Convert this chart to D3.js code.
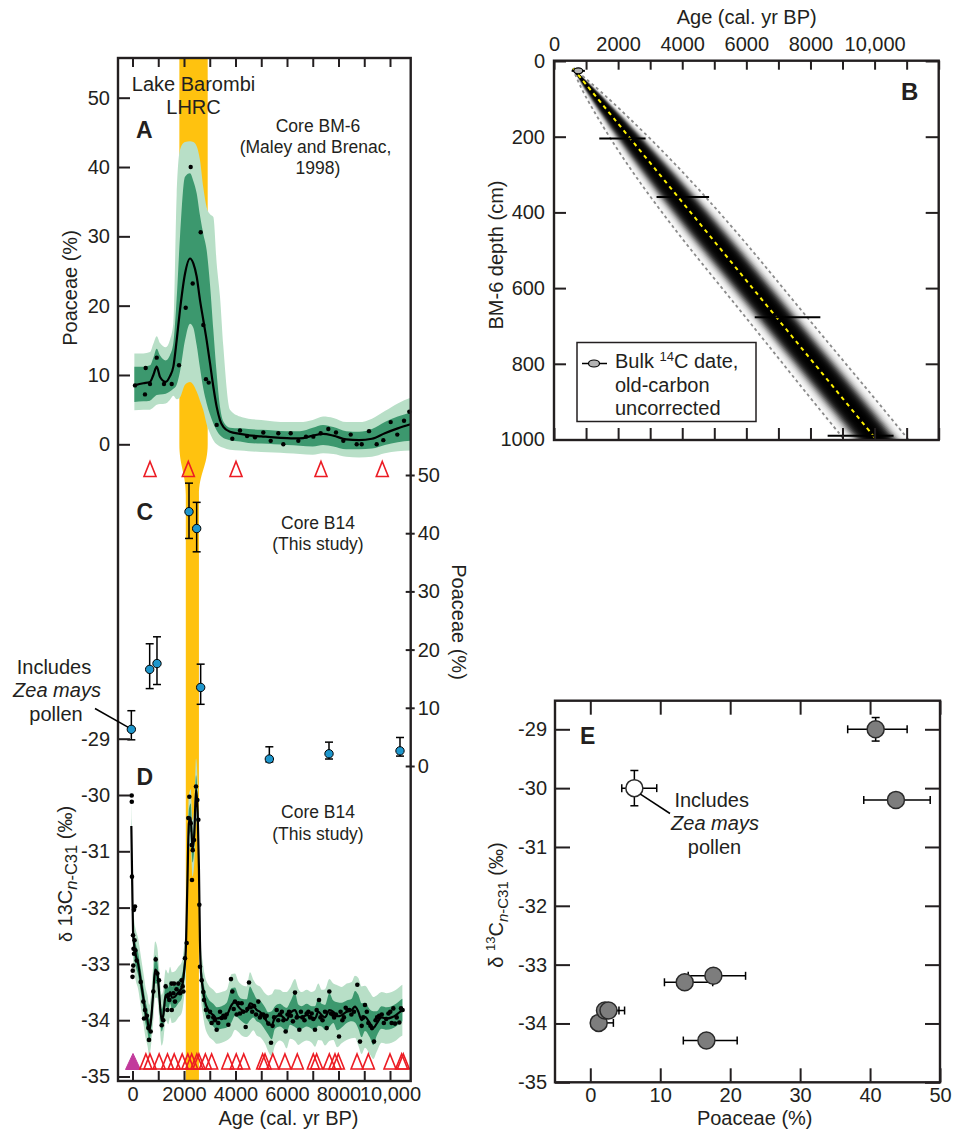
<!DOCTYPE html>
<html>
<head>
<meta charset="utf-8">
<script src="https://cdn.jsdelivr.net/npm/d3@7"></script>
<style>
  body { margin: 0; background: #fff; }
  svg text { font-family: "Liberation Sans", Arial, Helvetica, sans-serif; }
</style>
</head>
<body>
<svg id="fig" width="956" height="1135"></svg>
<script>
// ---------------- tick labels ----------------
const ageTickValues = [0, 2000, 4000, 6000, 8000, 10000];
const ageTickLabels = ["0", "2000", "4000", "6000", "8000", "10,000"];
const poaceaeTicks = [0, 10, 20, 30, 40, 50];
const d13cTicks = [-35, -34, -33, -32, -31, -30, -29];
const depthTicks = [0, 200, 400, 600, 800, 1000];

// ---------------- Lake Barombi LHRC interval (cal. yr BP) ----------------
const lhrcBM6 = [1820, 2920];
const lhrcB14 = [2070, 2580];

// ---------------- (A) Core BM-6 Poaceae pollen ----------------
const bm6Age = [97, 485, 512, 680, 940, 1223, 1522, 1806, 2066, 2260, 2338, 2648, 2750, 2854, 2959, 3270,
  3876, 4175, 4450, 4757, 5080, 5367, 5662, 5857, 6144, 6440, 6738, 7022, 7309, 7604, 7903, 8187, 8474,
  8707, 8901, 9185, 9483, 9740, 10027, 10283, 10544, 10750];
const bm6Poaceae = [8.5, 7.2, 11.0, 8.7, 12.5, 8.7, 8.7, 11.4, 19.7, 40.0, 23.2, 30.6, 17.2, 9.4, 8.9, 2.8,
  0.8, 2.0, 1.2, 1.0, 1.7, 0.5, 1.6, 0.0, 1.6, 0.5, 1.1, 1.1, 1.6, 2.2, 1.7, 0.5, 1.4,
  0.0, 0.0, 1.9, 0.0, 0.6, 3.2, 1.4, 3.4, 4.7];
// smoothed fit with 68% and 95% envelopes
const bm6FitAge = [72, 420, 680, 810, 940, 1070, 1290, 1450, 1586, 1715, 1845, 2039, 2233, 2362, 2492, 2621,
  2751, 2880, 3010, 3139, 3269, 3398, 3528, 3786, 4175, 4500, 5000, 5500, 6000, 6500, 7000, 7400, 7800,
  8300, 8800, 9300, 9800, 10300, 10800];
const bm6FitMean = [8.5, 8.8, 9.0, 10.0, 11.2, 9.7, 9.0, 9.8, 11.2, 15.0, 19.4, 24.6, 26.8, 26.1, 24.2, 20.8,
  17.9, 15.0, 11.7, 8.3, 5.4, 3.5, 2.5, 1.8, 1.5, 1.3, 1.15, 1.0, 0.9, 0.85, 1.25, 1.5, 1.25,
  0.7, 0.6, 0.8, 1.6, 2.3, 2.9];
const bm6Hi68 = [11.2, 11.2, 11.4, 12.5, 13.8, 12.8, 12.1, 12.8, 14.6, 21.0, 30.0, 38.6, 39.1, 38.0, 36.2, 33.0,
  30.3, 28.0, 23.0, 16.5, 10.2, 5.4, 3.3, 2.4, 2.3, 2.2, 2.1, 2.0, 1.9, 1.9, 2.4, 2.8, 2.5,
  1.9, 1.8, 2.2, 3.2, 4.0, 4.6];
const bm6Lo68 = [6.1, 6.2, 6.3, 6.7, 7.1, 7.2, 7.3, 7.6, 8.0, 8.6, 10.5, 15.0, 17.4, 16.8, 14.3, 11.0,
  8.0, 5.9, 4.3, 3.0, 2.0, 1.3, 0.9, 0.6, 0.4, 0.2, 0.1, 0.0, -0.1, -0.2, -0.3, -0.1, -0.3,
  -0.7, -0.7, -0.6, -0.1, 0.3, 0.5];
const bm6Hi95 = [13.1, 13.1, 13.3, 14.5, 15.6, 14.6, 14.0, 15.0, 17.5, 36.0, 42.5, 43.6, 43.7, 43.6, 43.0, 41.0,
  37.0, 34.2, 33.2, 32.8, 26.1, 21.3, 14.1, 5.0, 4.0, 3.7, 3.5, 3.3, 3.2, 3.2, 3.5, 4.0, 3.8,
  3.2, 3.2, 3.7, 4.8, 5.9, 6.7];
const bm6Lo95 = [4.9, 5.0, 5.0, 5.3, 5.7, 5.8, 5.9, 6.4, 7.0, 6.5, 6.8, 8.6, 9.0, 8.6, 7.6, 6.3,
  4.9, 2.9, 1.6, 0.6, 0.0, -0.3, -0.5, -0.8, -0.9, -1.0, -1.1, -1.2, -1.3, -1.4, -1.5, -1.3, -1.4,
  -1.8, -1.9, -1.8, -1.3, -1.0, -0.9];
const bm6DateAge = [680, 2168, 4020, 7320, 9700];

// ---------------- (C, E) Core B14 Poaceae and paired n-C31 d13C ----------------
const b14Age = [-45, 667, 951, 2194, 2492, 2647, 5314, 7631, 10388];
const b14Poaceae = [6.3, 16.6, 17.6, 43.7, 40.8, 13.5, 1.2, 2.1, 2.6];
const b14PoaLo = [4.5, 13.3, 14.0, 39.1, 36.8, 10.6, 0.7, 1.2, 1.7];
const b14PoaHi = [9.5, 21.0, 22.2, 48.6, 45.3, 17.5, 3.3, 4.1, 4.9];
const b14D13C = [-30.0, -34.29, -33.19, -30.2, -29.0, -33.3, -33.99, -33.78, -33.78];
const b14D13CErr = [0.3, 0.08, 0.08, 0.1, 0.2, 0.08, 0.08, 0.08, 0.1];
const b14ZeaMays = [true, false, false, false, false, false, false, false, false];

// ---------------- (D) Core B14 n-C31 d13C ----------------
const d13Age = [-32, -28, -20, 0, 10, 20, 30, 40, 58, 60, 80, 97, 110, 162, 318, 420, 447, 485, 560, 615,
  641, 707, 809, 901, 963, 1029, 1134, 1196, 1288, 1353, 1392, 1430, 1521, 1525, 1586, 1612, 1650, 1710,
  1780, 1845, 1909, 1948, 1975, 2039, 2104, 2168, 2207, 2260, 2298, 2310, 2338, 2388, 2466, 2518, 2557,
  2595, 2621, 2687, 2750, 2777, 2854, 2945, 3010, 3074, 3139, 3204, 3269, 3330, 3400, 3463, 3530, 3592,
  3650, 3722, 3825, 3877, 3930, 3980, 4045, 4110, 4175, 4240, 4300, 4395, 4460, 4524, 4590, 4650, 4720,
  4800, 4886, 4950, 5010, 5080, 5146, 5210, 5275, 5379, 5440, 5500, 5599, 5660, 5728, 5800, 5860, 5948,
  6020, 6080, 6150, 6230, 6311, 6380, 6479, 6540, 6600, 6680, 6764, 6830, 6900, 6958, 7022, 7087, 7152,
  7243, 7300, 7380, 7476, 7540, 7644, 7710, 7770, 7830, 7900, 8019, 8080, 8150, 8210, 8280, 8350, 8420,
  8500, 8600, 8731, 8835, 8900, 8960, 9029, 9100, 9160, 9240, 9300, 9379, 9440, 9500, 9580, 9680, 9760,
  9850, 9940, 10010, 10065, 10129, 10194, 10260, 10362, 10427, 10490];
const d13Val = [-30.01, -30.12, -31.45, -33.23, -33.12, -32.49, -33.03, -32.73, -32.04, -32.82, -32.58, -31.98,
  -32.76, -32.94, -33.32, -33.67, -33.97, -33.82, -33.92, -34.14, -34.35, -34.20, -33.49, -32.92, -33.17,
  -33.29, -34.09, -34.00, -33.40, -33.82, -33.55, -33.64, -33.35, -33.82, -33.52, -33.35, -33.67, -33.45,
  -33.35, -33.52, -33.29, -33.40, -33.49, -32.90, -32.63, -30.41, -30.03, -30.50, -30.89, -31.51, -30.98,
  -30.80, -29.85, -30.09, -30.44, -31.95, -33.05, -33.29, -33.50, -33.64, -33.82, -33.94, -33.85, -34.05,
  -33.95, -34.00, -34.17, -34.05, -33.85, -33.96, -33.92, -33.95, -33.90, -34.08, -33.27, -33.49, -33.80,
  -33.67, -33.90, -33.70, -33.88, -33.70, -33.85, -34.12, -33.80, -33.33, -33.77, -33.85, -33.75, -33.90,
  -33.67, -33.95, -33.90, -33.90, -33.95, -33.92, -34.06, -34.40, -34.10, -33.95, -33.82, -34.00, -33.90,
  -33.85, -34.00, -34.20, -33.90, -33.85, -33.92, -34.02, -33.51, -33.95, -34.17, -33.85, -33.95, -34.00,
  -33.88, -33.85, -33.95, -33.88, -33.98, -34.17, -33.82, -33.64, -33.95, -34.00, -33.85, -34.14, -33.49,
  -33.88, -33.90, -33.95, -33.90, -34.29, -33.85, -34.00, -33.95, -33.78, -33.82, -33.82, -33.90, -33.85,
  -33.37, -34.38, -34.10, -33.95, -33.73, -33.85, -34.05, -34.10, -34.14, -34.38, -34.00, -33.95, -33.92,
  -33.90, -34.05, -33.98, -33.88, -33.85, -34.05, -33.79, -34.06, -33.95, -34.04, -33.79, -33.82];
// smoothed record with 68% / 95% half-widths
const d13FitAge = [-45, -10, 20, 60, 130, 220, 320, 420, 500, 580, 650, 720, 800, 880, 960, 1040, 1130, 1200,
  1290, 1390, 1460, 1530, 1650, 1780, 1910, 2000, 2070, 2130, 2190, 2260, 2330, 2400, 2466, 2530, 2580,
  2620, 2660, 2720, 2816, 2945, 3139, 3269, 3463, 3657, 3851, 3980, 4110, 4240, 4434, 4563, 4692, 4822,
  4951, 5146, 5275, 5405, 5534, 5728, 5858, 5987, 6117, 6311, 6440, 6570, 6764, 6958, 7087, 7217, 7346,
  7476, 7644, 7799, 7954, 8122, 8317, 8511, 8641, 8770, 8900, 9029, 9223, 9353, 9482, 9676, 9871, 10065,
  10233, 10388, 10480];
const d13FitMean = [-30.55, -31.6, -32.4, -32.65, -32.85, -33.0, -33.3, -33.6, -33.85, -34.0, -34.18, -34.0,
  -33.55, -33.1, -33.15, -33.55, -34.0, -33.9, -33.55, -33.62, -33.5, -33.6, -33.58, -33.5, -33.42,
  -33.15, -32.75, -31.6, -30.5, -30.4, -30.95, -30.7, -29.9, -30.3, -31.3, -32.6, -33.15, -33.4,
  -33.67, -33.82, -33.91, -33.97, -33.95, -33.91, -33.73, -33.67, -33.76, -33.82, -33.85, -33.70,
  -33.73, -33.82, -33.85, -33.97, -34.06, -34.09, -33.95, -33.91, -33.95, -34.0, -33.88, -33.82,
  -33.94, -33.95, -33.91, -33.95, -33.97, -33.85, -33.91, -33.95, -33.82, -33.85, -33.93, -33.91,
  -33.85, -33.82, -33.76, -33.85, -34.0, -33.94, -34.06, -34.14, -34.06, -33.95, -33.97, -33.95,
  -33.91, -33.85, -33.82];
const d13Half68 = [0.15, 0.25, 0.25, 0.2, 0.2, 0.2, 0.2, 0.2, 0.2, 0.2, 0.2, 0.2, 0.2, 0.25, 0.2, 0.2, 0.2, 0.2,
  0.2, 0.2, 0.2, 0.2, 0.2, 0.2, 0.2, 0.2, 0.2, 0.25, 0.25, 0.25, 0.25, 0.25, 0.25, 0.25, 0.25,
  0.25, 0.2, 0.2, 0.2, 0.2, 0.2, 0.2, 0.2, 0.22, 0.3, 0.25, 0.2, 0.2, 0.22, 0.3, 0.22, 0.2,
  0.2, 0.2, 0.2, 0.25, 0.2, 0.2, 0.2, 0.22, 0.2, 0.3, 0.22, 0.2, 0.2, 0.2, 0.22, 0.25, 0.2,
  0.22, 0.3, 0.2, 0.25, 0.22, 0.2, 0.2, 0.28, 0.3, 0.3, 0.25, 0.25, 0.3, 0.22, 0.2, 0.2, 0.2,
  0.2, 0.2, 0.2];
const d13Half95 = [0.5, 0.55, 0.5, 0.45, 0.45, 0.45, 0.45, 0.45, 0.45, 0.45, 0.45, 0.45, 0.5, 0.5, 0.45, 0.45, 0.45, 0.45,
  0.45, 0.45, 0.45, 0.45, 0.45, 0.45, 0.45, 0.45, 0.45, 0.5, 0.5, 0.5, 0.5, 0.5, 0.55, 0.5, 0.5,
  0.5, 0.45, 0.45, 0.45, 0.45, 0.45, 0.45, 0.45, 0.45, 0.55, 0.5, 0.45, 0.45, 0.45, 0.55, 0.45, 0.45,
  0.45, 0.45, 0.5, 0.55, 0.5, 0.45, 0.45, 0.5, 0.45, 0.55, 0.5, 0.45, 0.45, 0.45, 0.5, 0.5, 0.45,
  0.5, 0.55, 0.5, 0.55, 0.5, 0.5, 0.5, 0.55, 0.6, 0.6, 0.55, 0.55, 0.55, 0.5, 0.45, 0.45, 0.45,
  0.45, 0.45, 0.45];
const b14DateAge = [520, 680, 1035, 1360, 1620, 1930, 2150, 2300, 2500, 2580, 2830, 3074, 3700, 4030, 4320,
  5055, 5146, 5450, 5920, 6400, 7022, 7152, 7644, 7864, 7993, 8720, 9160, 10000, 10453, 10518];
const b14SurfaceAge = [20];

// ---------------- (B) BM-6 age-depth model ----------------
const bmDepth = [20, 30, 60, 100, 200, 300, 400, 500, 600, 700, 800, 900, 1000];
const bmMedianAge = [596, 693, 982, 1368, 2333, 3298, 4263, 5228, 6193, 7158, 8123, 9088, 10053];
const bmHalf95 = [0, 60, 200, 350, 620, 800, 900, 950, 950, 960, 980, 1000, 1000];
const bmDateDepth = [26, 205, 359, 677, 990];
const bmDateLo = [550, 1412, 3199, 6262, 8536];
const bmDateHi = [964, 2857, 4838, 8308, 10592];

// ---------------- drawing ----------------
const INK = "#231f20";
const GREEN_LIGHT = "#b8dfc7";
const GREEN_DARK = "#3c986e";
const LHRC_COL = "#ffc20f";
const TRI_RED = "#ec1c24";
const svg = d3.select("#fig");

function addText(x, y, str, o = {}) {
  const t = svg.append("text").attr("x", x).attr("y", y).text(str)
    .attr("font-size", o.size || 20).attr("text-anchor", o.anchor || "middle").attr("fill", INK);
  if (o.weight) t.attr("font-weight", o.weight);
  if (o.style) t.attr("font-style", o.style);
  return t;
}
function styleAxis(g, fontSize) {
  g.select(".domain").remove();
  g.selectAll(".tick line").attr("stroke", INK).attr("stroke-width", 2);
  g.selectAll(".tick text").attr("fill", INK).attr("font-size", fontSize || 20)
    .attr("font-family", '"Liberation Sans", Arial, Helvetica, sans-serif');
}
const tri = (w, h) => `M0,${-h / 2} L${w / 2},${h / 2} L${-w / 2},${h / 2} Z`;

// ===== left column: panels A, C, D share the age axis =====
const frameL = { left: 118, right: 410.7, top: 58, bottom: 1081 };
const xAge = d3.scaleLinear().domain([0, 10000]).range([132.5, 390]);
const yA = d3.scaleLinear().domain([0, 50]).range([444.3, 97.7]);
const yC = d3.scaleLinear().domain([0, 50]).range([766, 475]);
const yD = d3.scaleLinear().domain([-35, -30]).range([1076.5, 795]);

// LHRC band: wide in BM-6, narrowing to the B14 interval
{
  const a0 = xAge(lhrcBM6[0]), a1 = xAge(lhrcBM6[1]);
  const c0 = xAge(lhrcB14[0]), c1 = xAge(lhrcB14[1]);
  const t0 = yA(0), t1 = yC(46.5);
  const p = `M${a0},${frameL.top} L${a1},${frameL.top} L${a1},${t0}
    C${a1},${t0 + 22} ${c1},${t1 - 22} ${c1},${t1} L${c1},${frameL.bottom} L${c0},${frameL.bottom} L${c0},${t1}
    C${c0},${t1 - 22} ${a0},${t0 + 22} ${a0},${t0} Z`;
  svg.append("path").attr("d", p).attr("fill", LHRC_COL);
}

// ----- panel A -----
function bandA(lo, hi) {
  return d3.area().x((d, i) => xAge(bm6FitAge[i])).y0((d, i) => yA(lo[i])).y1((d, i) => yA(hi[i]))
    .curve(d3.curveMonotoneX)(bm6FitAge);
}
svg.append("path").attr("d", bandA(bm6Lo95, bm6Hi95)).attr("fill", GREEN_LIGHT);
svg.append("path").attr("d", bandA(bm6Lo68, bm6Hi68)).attr("fill", GREEN_DARK);
svg.append("path")
  .attr("d", d3.line().x((d, i) => xAge(bm6FitAge[i])).y(d => yA(d)).curve(d3.curveMonotoneX)(bm6FitMean))
  .attr("fill", "none").attr("stroke", "#000").attr("stroke-width", 2.2);
svg.append("g").selectAll("circle").data(bm6Age).join("circle")
  .attr("cx", d => xAge(d)).attr("cy", (d, i) => yA(bm6Poaceae[i])).attr("r", 2.2).attr("fill", "#000");
svg.append("g").selectAll("path").data(bm6DateAge).join("path")
  .attr("transform", d => `translate(${xAge(d)},${469})`).attr("d", tri(12, 15))
  .attr("fill", "none").attr("stroke", TRI_RED).attr("stroke-width", 1.6);

// ----- panel C -----
const gC = svg.append("g");
b14Age.forEach((a, i) => {
  const x = xAge(a);
  gC.append("line").attr("x1", x).attr("x2", x).attr("y1", yC(b14PoaLo[i])).attr("y2", yC(b14PoaHi[i]))
    .attr("stroke", "#000").attr("stroke-width", 1.5);
  [b14PoaLo[i], b14PoaHi[i]].forEach(v => gC.append("line").attr("x1", x - 4).attr("x2", x + 4)
    .attr("y1", yC(v)).attr("y2", yC(v)).attr("stroke", "#000").attr("stroke-width", 1.5));
});
gC.selectAll("circle").data(b14Age).join("circle")
  .attr("cx", d => xAge(d)).attr("cy", (d, i) => yC(b14Poaceae[i])).attr("r", 4.2)
  .attr("fill", "#1e96cc").attr("stroke", "#000").attr("stroke-width", 1);

// ----- panel D -----
function bandD(half) {
  return d3.area().x((d, i) => xAge(d13FitAge[i]))
    .y0((d, i) => yD(d13FitMean[i] - half[i])).y1((d, i) => yD(d13FitMean[i] + half[i]))
    .curve(d3.curveMonotoneX)(d13FitAge);
}
svg.append("path").attr("d", bandD(d13Half95)).attr("fill", GREEN_LIGHT);
svg.append("path").attr("d", bandD(d13Half68)).attr("fill", GREEN_DARK);
svg.append("path")
  .attr("d", d3.line().x((d, i) => xAge(d13FitAge[i])).y(d => yD(d)).curve(d3.curveMonotoneX)(d13FitMean))
  .attr("fill", "none").attr("stroke", "#000").attr("stroke-width", 2.2);
svg.append("g").selectAll("circle").data(d13Age).join("circle")
  .attr("cx", d => xAge(d)).attr("cy", (d, i) => yD(d13Val[i])).attr("r", 2.3).attr("fill", "#000");
svg.append("g").selectAll("path").data(b14SurfaceAge).join("path")
  .attr("transform", d => `translate(${xAge(d)},${1061.5})`).attr("d", tri(15, 16))
  .attr("fill", "#c23a9c").attr("stroke", "#c23a9c").attr("stroke-width", 1);
svg.append("g").selectAll("path").data(b14DateAge).join("path")
  .attr("transform", d => `translate(${xAge(d)},${1061.5})`).attr("d", tri(12, 15))
  .attr("fill", "none").attr("stroke", TRI_RED).attr("stroke-width", 1.6);

// ----- left column frame & axes -----
svg.append("rect").attr("x", frameL.left).attr("y", frameL.top)
  .attr("width", frameL.right - frameL.left).attr("height", frameL.bottom - frameL.top)
  .attr("fill", "none").attr("stroke", INK).attr("stroke-width", 2.4);
const ageMinor = d3.range(0, 10001, 1000);
svg.append("g").attr("transform", `translate(0,${frameL.top})`)
  .call(d3.axisTop(xAge).tickValues(ageMinor).tickSize(-9).tickFormat(""))
  .call(styleAxis);
svg.append("g").attr("transform", `translate(0,${frameL.bottom})`)
  .call(d3.axisBottom(xAge).tickValues(ageMinor).tickSize(-10).tickPadding(6)
    .tickFormat(d => { const k = ageTickValues.indexOf(d); return k >= 0 ? ageTickLabels[k] : ""; }))
  .call(styleAxis);
svg.append("g").attr("transform", `translate(${frameL.left},0)`)
  .call(d3.axisLeft(yA).tickValues(poaceaeTicks).tickSize(-12).tickPadding(8).tickFormat(d => String(d)))
  .call(styleAxis);
svg.append("g").attr("transform", `translate(${frameL.left},0)`)
  .call(d3.axisLeft(yD).tickValues(d13cTicks).tickSize(-12).tickPadding(8).tickFormat(d => String(d)))
  .call(styleAxis);
svg.append("g").attr("transform", `translate(${frameL.right - 5},0)`)
  .call(d3.axisRight(yC).tickValues(poaceaeTicks).tickSize(9).tickPadding(3).tickFormat(d => String(d)))
  .call(styleAxis);

// ----- left column text -----
addText(193.5, 91, "Lake Barombi");
addText(193.5, 114, "LHRC");
addText(136, 137.5, "A", { anchor: "start", size: 23, weight: "bold" });
addText(318, 131.5, "Core BM-6", { size: 17.5 });
addText(315.5, 153, "(Maley and Brenac,", { size: 17.5 });
addText(318, 174, "1998)", { size: 17.5 });
svg.append("text").attr("transform", "translate(77,288) rotate(-90)").attr("text-anchor", "middle")
  .attr("font-size", 20).attr("fill", INK).text("Poaceae (%)");

addText(136.5, 520, "C", { anchor: "start", size: 23, weight: "bold" });
addText(318, 529, "Core B14", { size: 17.5 });
addText(318, 549.5, "(This study)", { size: 17.5 });
svg.append("text").attr("transform", "translate(452,622) rotate(90)").attr("text-anchor", "middle")
  .attr("font-size", 20).attr("fill", INK).text("Poaceae (%)");
addText(54, 673.5, "Includes");
addText(57, 696.5, "Zea mays", { style: "italic" });
addText(56, 720.5, "pollen");
svg.append("line").attr("x1", 95).attr("y1", 708.5).attr("x2", xAge(b14Age[0]) - 3).attr("y2", yC(b14Poaceae[0]) - 2)
  .attr("stroke", "#000").attr("stroke-width", 1.5);

addText(136.5, 785, "D", { anchor: "start", size: 23, weight: "bold" });
addText(318, 817.5, "Core B14", { size: 17.5 });
addText(318, 839.5, "(This study)", { size: 17.5 });
{
  const t = svg.append("text").attr("transform", "translate(72,874) rotate(-90)").attr("text-anchor", "middle")
    .attr("font-size", 20).attr("fill", INK);
  t.append("tspan").attr("font-size", 18).text("δ");
  t.append("tspan").text(" 13C");
  t.append("tspan").attr("dy", 5).attr("font-size", 16.5).attr("font-style", "italic").text("n");
  t.append("tspan").attr("font-size", 16.5).text("-C31");
  t.append("tspan").attr("dy", -5).text(" (‰)");
}
addText(288.5, 1125, "Age (cal. yr BP)");

// ===== panel B: age-depth model =====
const frameB = { left: 554, right: 938.7, top: 60.7, bottom: 440 };
const xB = d3.scaleLinear().domain([0, 12000]).range([frameB.left, frameB.right]);
const yB = d3.scaleLinear().domain([0, 1000]).range([61, 439.5]);
{
  // probability shading: stacked translucent layers, darkest on the median
  const N = 24, fMax = 1.1;
  const shade = f => 1 / (1 + Math.exp((f - 0.62) / 0.095));
  const g = svg.append("g");
  let sPrev = 1;
  for (let k = N; k >= 1; k--) {
    const f = fMax * k / N;
    const s = 1 - shade(f);
    const p = 1 - s / sPrev;
    sPrev = s;
    const area = d3.area().curve(d3.curveBasis)
      .y((d, i) => yB(bmDepth[i]))
      .x0((d, i) => xB(bmMedianAge[i] - f * bmHalf95[i]))
      .x1((d, i) => xB(bmMedianAge[i] + f * bmHalf95[i]));
    g.append("path").attr("d", area(bmDepth)).attr("fill", "#000").attr("fill-opacity", Math.max(p, 0));
  }
  const lineAt = off => d3.line().curve(d3.curveBasis)
    .x((d, i) => xB(bmMedianAge[i] + off * bmHalf95[i])).y((d, i) => yB(bmDepth[i]))(bmDepth);
  g.append("path").attr("d", lineAt(-1)).attr("fill", "none").attr("stroke", "#8a8a8a")
    .attr("stroke-width", 1.8).attr("stroke-dasharray", "3,3");
  g.append("path").attr("d", lineAt(1)).attr("fill", "none").attr("stroke", "#8a8a8a")
    .attr("stroke-width", 1.8).attr("stroke-dasharray", "3,3");
  g.append("path").attr("d", lineAt(0)).attr("fill", "none").attr("stroke", "#000").attr("stroke-width", 3);
  g.append("path").attr("d", lineAt(0)).attr("fill", "none").attr("stroke", "#fff200")
    .attr("stroke-width", 2).attr("stroke-dasharray", "4,4");
  // calibrated bulk dates
  bmDateDepth.forEach((d, i) => {
    g.append("line").attr("x1", xB(bmDateLo[i])).attr("x2", xB(bmDateHi[i]))
      .attr("y1", yB(d)).attr("y2", yB(d)).attr("stroke", "#000").attr("stroke-width", 2);
  });
  const d0 = bmDateDepth[0], cx0 = xB((bmDateLo[0] + bmDateHi[0]) / 2);
  g.append("ellipse").attr("cx", cx0).attr("cy", yB(d0)).attr("rx", 4.5).attr("ry", 3)
    .attr("fill", "#b3b3b3").attr("stroke", "#000").attr("stroke-width", 1.2);
}
svg.append("rect").attr("x", frameB.left).attr("y", frameB.top)
  .attr("width", frameB.right - frameB.left).attr("height", frameB.bottom - frameB.top)
  .attr("fill", "none").attr("stroke", INK).attr("stroke-width", 2.4);
const bAgeMinor = d3.range(0, 12001, 1000);
svg.append("g").attr("transform", `translate(0,${frameB.top})`)
  .call(d3.axisTop(xB).tickValues(bAgeMinor).tickSize(-9).tickPadding(10)
    .tickFormat(d => { const k = ageTickValues.indexOf(d); return k >= 0 ? ageTickLabels[k] : ""; }))
  .call(styleAxis);
svg.append("g").attr("transform", `translate(0,${frameB.bottom})`)
  .call(d3.axisBottom(xB).tickValues(bAgeMinor).tickSize(-12).tickFormat(""))
  .call(styleAxis);
svg.append("g").attr("transform", `translate(${frameB.left},0)`)
  .call(d3.axisLeft(yB).tickValues(depthTicks).tickSize(-12).tickPadding(9).tickFormat(d => String(d)))
  .call(styleAxis);
svg.append("g").attr("transform", `translate(${frameB.right},0)`)
  .call(d3.axisRight(yB).tickValues(depthTicks).tickSize(-13).tickFormat(""))
  .call(styleAxis);
addText(746.7, 24, "Age (cal. yr BP)");
svg.append("text").attr("transform", "translate(503,255) rotate(-90)").attr("text-anchor", "middle")
  .attr("font-size", 20).attr("fill", INK).text("BM-6 depth (cm)");
addText(901, 100, "B", { anchor: "start", size: 24, weight: "bold" });
// legend
svg.append("rect").attr("x", 577).attr("y", 342.5).attr("width", 179).attr("height", 79)
  .attr("fill", "#fff").attr("stroke", INK).attr("stroke-width", 1.5);
svg.append("line").attr("x1", 582).attr("x2", 607).attr("y1", 363.5).attr("y2", 363.5)
  .attr("stroke", "#000").attr("stroke-width", 1.5);
svg.append("ellipse").attr("cx", 594).attr("cy", 363.5).attr("rx", 5.5).attr("ry", 3.5)
  .attr("fill", "#b3b3b3").attr("stroke", "#000").attr("stroke-width", 1.2);
{
  const t = addText(615, 368, "", { anchor: "start" });
  t.append("tspan").text("Bulk ");
  t.append("tspan").attr("font-size", 13).attr("dy", -7).text("14");
  t.append("tspan").attr("dy", 7).text("C date,");
}
addText(615, 392, "old-carbon", { anchor: "start" });
addText(615, 415, "uncorrected", { anchor: "start" });

// ===== panel E: d13C vs Poaceae =====
const frameE = { left: 555, right: 940, top: 700.7, bottom: 1082.3 };
const xE = d3.scaleLinear().domain([0, 50]).range([590.3, 940]);
const yE = d3.scaleLinear().domain([-35, -29]).range([1082.3, 729.3]);
{
  const g = svg.append("g");
  b14Age.forEach((a, i) => {
    const cx = xE(b14Poaceae[i]), cy = yE(b14D13C[i]);
    const ylo = yE(b14D13C[i] - b14D13CErr[i]), yhi = yE(b14D13C[i] + b14D13CErr[i]);
    g.append("line").attr("x1", xE(b14PoaLo[i])).attr("x2", xE(b14PoaHi[i])).attr("y1", cy).attr("y2", cy)
      .attr("stroke", "#000").attr("stroke-width", 1.5);
    [b14PoaLo[i], b14PoaHi[i]].forEach(v => g.append("line").attr("x1", xE(v)).attr("x2", xE(v))
      .attr("y1", cy - 4).attr("y2", cy + 4).attr("stroke", "#000").attr("stroke-width", 1.5));
    g.append("line").attr("x1", cx).attr("x2", cx).attr("y1", ylo).attr("y2", yhi)
      .attr("stroke", "#000").attr("stroke-width", 1.5);
    [ylo, yhi].forEach(v => g.append("line").attr("x1", cx - 4).attr("x2", cx + 4)
      .attr("y1", v).attr("y2", v).attr("stroke", "#000").attr("stroke-width", 1.5));
  });
  g.selectAll("circle").data(b14Age).join("circle")
    .attr("cx", (d, i) => xE(b14Poaceae[i])).attr("cy", (d, i) => yE(b14D13C[i])).attr("r", 8.5)
    .attr("fill", (d, i) => b14ZeaMays[i] ? "#fff" : "#7d7d7d").attr("stroke", "#2a2a2a").attr("stroke-width", 1.5);
}
svg.append("rect").attr("x", frameE.left).attr("y", frameE.top)
  .attr("width", frameE.right - frameE.left).attr("height", frameE.bottom - frameE.top)
  .attr("fill", "none").attr("stroke", INK).attr("stroke-width", 2.4);
const poaE = [0, 10, 20, 30, 40, 50];
svg.append("g").attr("transform", `translate(0,${frameE.bottom})`)
  .call(d3.axisBottom(xE).tickValues(poaE).tickSize(-14).tickPadding(6).tickFormat(d => String(d)))
  .call(styleAxis);
svg.append("g").attr("transform", `translate(0,${frameE.top})`)
  .call(d3.axisTop(xE).tickValues(poaE).tickSize(-14).tickFormat(""))
  .call(styleAxis);
svg.append("g").attr("transform", `translate(${frameE.left},0)`)
  .call(d3.axisLeft(yE).tickValues(d13cTicks).tickSize(-15).tickPadding(8).tickFormat(d => String(d)))
  .call(styleAxis);
svg.append("g").attr("transform", `translate(${frameE.right},0)`)
  .call(d3.axisRight(yE).tickValues(d13cTicks).tickSize(-15).tickFormat(""))
  .call(styleAxis);
addText(580, 744, "E", { anchor: "start", size: 23, weight: "bold" });
addText(754.7, 1125, "Poaceae (%)");
{
  const t = svg.append("text").attr("transform", "translate(503,905) rotate(-90)").attr("text-anchor", "middle")
    .attr("font-size", 20).attr("fill", INK);
  t.append("tspan").text("δ ");
  t.append("tspan").attr("font-size", 13).attr("dy", -8).text("13");
  t.append("tspan").attr("dy", 8).text("C");
  t.append("tspan").attr("dy", 5).attr("font-size", 15).attr("font-style", "italic").text("n");
  t.append("tspan").attr("font-size", 15).text("-C31");
  t.append("tspan").attr("dy", -5).text(" (‰)");
}
addText(711.7, 806.5, "Includes");
addText(715, 830, "Zea mays", { style: "italic" });
addText(714.5, 854, "pollen");
svg.append("line").attr("x1", xE(b14Poaceae[0]) + 6).attr("y1", yE(b14D13C[0]) + 6).attr("x2", 670).attr("y2", 813.5)
  .attr("stroke", "#000").attr("stroke-width", 1.5);
</script>
</body>
</html>
